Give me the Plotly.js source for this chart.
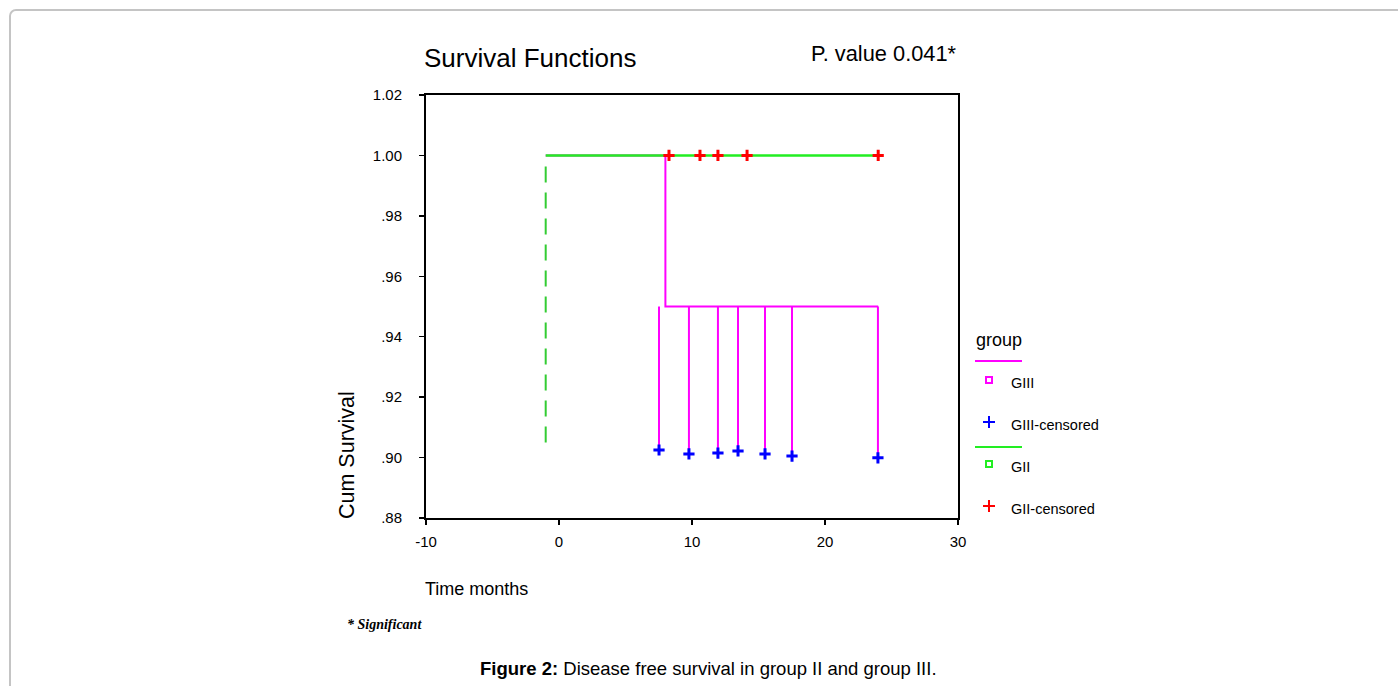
<!DOCTYPE html>
<html>
<head>
<meta charset="utf-8">
<script src="https://cdn.plot.ly/plotly-3.0.1.min.js"></script>
<style>
html,body{margin:0;padding:0;background:#fff;width:1398px;height:686px;overflow:hidden;}
#frame{position:absolute;left:9px;top:9px;width:1420px;height:720px;border:2px solid #c4c4c4;border-radius:7px;box-sizing:border-box;}
#chart{position:absolute;left:0;top:0;width:1398px;height:686px;}
</style>
</head>
<body>
<div id="frame"></div>
<div id="chart"></div>
<script>
// ---- data ----
const xTicks = [-10, 0, 10, 20, 30];
const xTickText = ['-10', '0', '10', '20', '30'];
const yTicks = [0.88, 0.90, 0.92, 0.94, 0.96, 0.98, 1.00, 1.02];
const yTickText = ['.88', '.90', '.92', '.94', '.96', '.98', '1.00', '1.02'];

// GII survival
const giiTime = [-1, 24.0];
const giiSurv = [1.0, 1.0];
const giiDashTime = [-1, -1];
const giiDashSurv = [0.905, 0.998];
const giiCensTime = [8.27, 10.6, 11.95, 14.14, 24.0];
const giiCensSurv = [1.0, 1.0, 1.0, 1.0, 1.0];

// GIII survival
const giiiTime = [-1, 8.0, 8.0, 24.0];
const giiiSurv = [1.0, 1.0, 0.95, 0.95];
const giiiDropLevel = 0.95;
const giiiCensTime = [7.52, 9.77, 11.95, 13.46, 15.49, 17.52, 23.98];
const giiiCensSurv = [0.9025, 0.9012, 0.9015, 0.9022, 0.9012, 0.9005, 0.8999];

// ---- build ----
const vx = [], vy = [];
giiiCensTime.forEach((t, i) => { vx.push(t, t, null); vy.push(giiiDropLevel, giiiCensSurv[i], null); });

const MAG = '#ff00ff', GRN = '#22ee22', BLU = '#0000ff', RED = '#ff0000';

const traces = [
  {x: giiiTime, y: giiiSurv, mode: 'lines', line: {color: MAG, width: 2, shape: 'linear'}, hoverinfo: 'skip'},
  {x: vx, y: vy, mode: 'lines', line: {color: MAG, width: 2}, hoverinfo: 'skip'},
  {x: giiTime, y: giiSurv, mode: 'lines', line: {color: GRN, width: 2.5}, hoverinfo: 'skip'},
  {x: giiDashTime, y: giiDashSurv, mode: 'lines', line: {color: '#33cc33', width: 2, dash: '16px,10px'}, hoverinfo: 'skip'},
  {x: giiiCensTime, y: giiiCensSurv, mode: 'markers', marker: {symbol: 'cross-thin', size: 8, color: BLU, line: {color: BLU, width: 3}}, hoverinfo: 'skip'},
  {x: giiCensTime, y: giiCensSurv, mode: 'markers', marker: {symbol: 'cross-thin', size: 8, color: RED, line: {color: RED, width: 3}}, hoverinfo: 'skip'}
];

// pixel -> paper helpers
const L = 426, R = 958, T = 95, B = 518;
const px = x => (x - L) / (R - L);
const py = y => (B - y) / (B - T);

const SANS = '"Liberation Sans", Arial, sans-serif';

function ann(text, x, y, size, family, opts) {
  return Object.assign({text: text, xref: 'paper', yref: 'paper', x: px(x), y: py(y),
    showarrow: false, font: {family: family, size: size, color: '#000'}, xanchor: 'left', yanchor: 'middle'}, opts || {});
}

const annotations = [
  ann('Survival Functions', 422, 58, 26, SANS),
  ann('P. value 0.041*', 809, 54, 21.8, SANS),
  ann('Cum Survival', 347, 455, 21.5, SANS, {textangle: -90, xanchor: 'center'}),
  ann('Time months', 423, 589, 18, SANS),
  ann('<b><i>* Significant</i></b>', 345, 624, 14, '"Liberation Serif", "Times New Roman", serif'),
  ann('<b>Figure 2:</b> Disease free survival in group II and group III.', 708, 668, 18.5, SANS, {xanchor: 'center'}),
  ann('group', 974, 340, 18, SANS),
  ann('GIII', 1009, 383, 14.5, SANS),
  ann('GIII-censored', 1009, 425, 14.5, SANS),
  ann('GII', 1009, 467, 14.5, SANS),
  ann('GII-censored', 1009, 509, 14.5, SANS)
];

function pline(x0, y0, x1, y1, color, w) {
  return {type: 'line', xref: 'paper', yref: 'paper', x0: px(x0), y0: py(y0), x1: px(x1), y1: py(y1), line: {color: color, width: w}};
}
function psq(cx, cy, s, color) {
  return {type: 'rect', xref: 'paper', yref: 'paper', x0: px(cx - s/2), x1: px(cx + s/2), y0: py(cy + s/2), y1: py(cy - s/2), line: {color: color, width: 2}, fillcolor: 'rgba(0,0,0,0)'};
}
const shapes = [
  pline(975, 361, 1022, 361, MAG, 2),
  psq(989, 380, 6, MAG),
  pline(983, 422, 995, 422, BLU, 2), pline(989, 416, 989, 428, BLU, 2),
  pline(975, 447, 1022, 447, GRN, 2),
  psq(989, 464, 6, GRN),
  pline(983, 506, 995, 506, RED, 2), pline(989, 500, 989, 512, RED, 2)
];

const layout = {
  width: 1398, height: 686,
  margin: {l: L, r: 1398 - R, t: T, b: 686 - B},
  paper_bgcolor: 'rgba(0,0,0,0)', plot_bgcolor: '#fff',
  showlegend: false,
  xaxis: {range: [-10, 30], tickvals: xTicks, ticktext: xTickText, ticks: 'outside', ticklen: 5, tickwidth: 1.5, tickcolor: '#000',
    showline: true, mirror: true, linecolor: '#000', linewidth: 2, showgrid: false, zeroline: false,
    tickfont: {family: SANS, size: 15, color: '#000'}, ticklabelstandoff: 4},
  yaxis: {range: [0.88, 1.02], tickvals: yTicks, ticktext: yTickText, ticks: 'outside', ticklen: 5, tickwidth: 1.5, tickcolor: '#000',
    showline: true, mirror: true, linecolor: '#000', linewidth: 2, showgrid: false, zeroline: false,
    tickfont: {family: SANS, size: 15, color: '#000'}, ticklabelstandoff: 14},
  annotations: annotations,
  shapes: shapes
};

Plotly.newPlot('chart', traces, layout, {staticPlot: true, displayModeBar: false});
</script>
</body>
</html>
